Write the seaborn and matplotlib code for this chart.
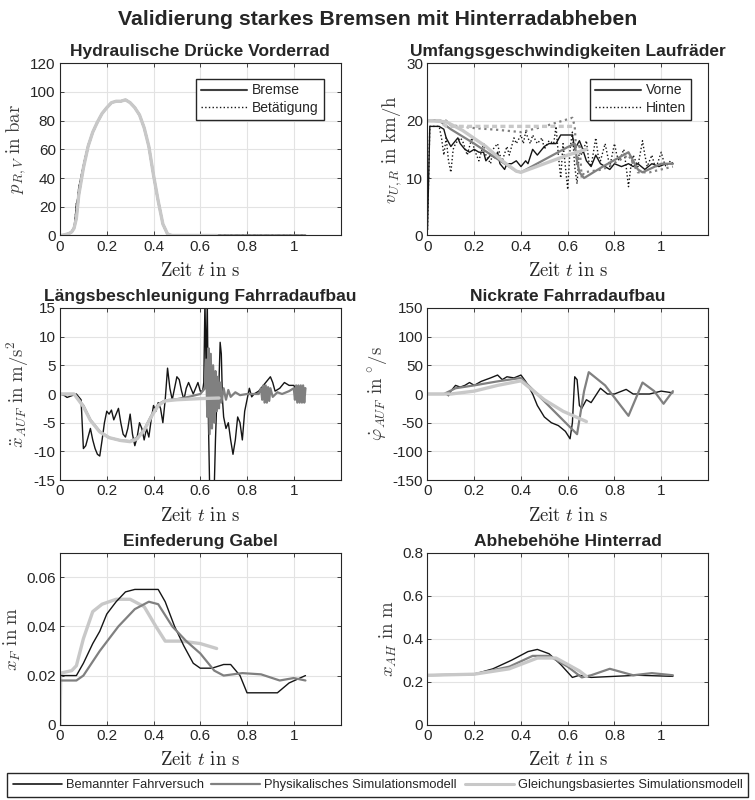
import numpy as np
import pandas as pd
import seaborn as sns
import matplotlib.pyplot as plt
from matplotlib.lines import Line2D

# Farben / Linien der drei Datenquellen
c_test = "#151515"    # Bemannter Fahrversuch
c_phys = "#808080"    # Physikalisches Simulationsmodell
c_gleich = "#c8c8c8"  # Gleichungsbasiertes Simulationsmodell

# ---- Hydraulische Drücke Vorderrad (t in s, p in bar)
p_test = [(0, 0), (0.02, 0.5), (0.04, 1.5), (0.05, 3), (0.06, 6), (0.065, 12), (0.07, 22), (0.075, 25),
          (0.08, 33), (0.10, 49), (0.12, 63), (0.14, 72), (0.16, 79), (0.18, 85), (0.20, 89), (0.22, 92.5),
          (0.24, 93.5), (0.26, 93.5), (0.28, 94.5), (0.30, 92.5), (0.32, 89), (0.34, 84), (0.36, 75),
          (0.38, 62), (0.40, 42), (0.42, 24), (0.44, 8), (0.46, 1), (0.48, 0), (0.6, 0), (0.8, 0), (1.05, 0)]
p_phys = [(0, 0), (0.02, 0.5), (0.04, 1.5), (0.05, 2.5), (0.06, 5), (0.07, 12), (0.08, 28), (0.10, 47),
          (0.12, 62), (0.14, 72), (0.16, 79), (0.18, 85), (0.20, 89), (0.22, 92.5), (0.24, 93.5), (0.26, 93.5),
          (0.28, 94.5), (0.30, 92.5), (0.32, 89), (0.34, 84), (0.36, 75), (0.38, 62), (0.40, 42), (0.42, 24),
          (0.44, 8), (0.46, 1), (0.48, 0), (0.6, 0), (0.8, 0), (1.05, 0)]
p_gleich = [(0, 0), (0.02, 0.5), (0.04, 1.5), (0.05, 2.5), (0.06, 5), (0.07, 12), (0.08, 28), (0.10, 47),
            (0.12, 62), (0.14, 72), (0.16, 79), (0.18, 85), (0.20, 89), (0.22, 92.5), (0.24, 93.5),
            (0.26, 93.5), (0.28, 94.5), (0.30, 92.5), (0.32, 89), (0.34, 84), (0.36, 75), (0.38, 62),
            (0.40, 42), (0.42, 24), (0.44, 8), (0.46, 1), (0.48, 0), (0.67, 0)]

# ---- Umfangsgeschwindigkeiten (km/h)
v_vorne_test = [(0, 1), (0.01, 19), (0.02, 19), (0.05, 19), (0.07, 18.5), (0.08, 17), (0.10, 15.5), (0.11, 16),
                (0.13, 17), (0.14, 16), (0.16, 15), (0.18, 14.5), (0.20, 15), (0.22, 14.5), (0.24, 14.5),
                (0.25, 13), (0.27, 14), (0.29, 13.5), (0.30, 14.5), (0.31, 12.5), (0.33, 11.5), (0.34, 12.5),
                (0.36, 12.5), (0.38, 13), (0.40, 12), (0.42, 13), (0.43, 12.5), (0.45, 15), (0.47, 14),
                (0.48, 14.5), (0.50, 15.5), (0.52, 16), (0.55, 16), (0.57, 17.5), (0.60, 17.5), (0.62, 17.5),
                (0.63, 15), (0.65, 16.5), (0.66, 15.5), (0.68, 13), (0.70, 12), (0.72, 14), (0.74, 12.5),
                (0.76, 12), (0.78, 11.5), (0.80, 12.5), (0.83, 12), (0.86, 12.5), (0.88, 12), (0.90, 12.5),
                (0.93, 11.5), (0.96, 12.5), (0.99, 12), (1.02, 12.5), (1.05, 12.5)]
v_hinten_test = [(0, 1), (0.01, 19), (0.05, 19), (0.06, 17), (0.07, 14), (0.08, 17), (0.09, 13), (0.10, 11),
                 (0.11, 15), (0.12, 16), (0.14, 17), (0.15, 16.5), (0.17, 14), (0.19, 17), (0.20, 15),
                 (0.22, 13), (0.24, 16), (0.25, 14), (0.27, 12.5), (0.28, 15), (0.30, 16), (0.31, 14),
                 (0.32, 13), (0.34, 15.5), (0.35, 14), (0.37, 17), (0.38, 16), (0.40, 17.5), (0.41, 16),
                 (0.42, 18), (0.44, 16), (0.45, 17.5), (0.47, 16), (0.49, 17), (0.50, 15), (0.52, 16.5),
                 (0.54, 16), (0.55, 19), (0.56, 14), (0.57, 10), (0.58, 16), (0.60, 8), (0.61, 15), (0.62, 18),
                 (0.63, 12), (0.64, 9), (0.65, 15), (0.66, 14), (0.68, 16.5), (0.69, 13), (0.70, 12),
                 (0.72, 17), (0.73, 14), (0.74, 13), (0.76, 16), (0.77, 14), (0.78, 12), (0.80, 16),
                 (0.81, 14), (0.82, 13), (0.84, 15), (0.85, 12), (0.86, 8.5), (0.87, 12), (0.88, 14),
                 (0.90, 12), (0.92, 16.5), (0.93, 14), (0.94, 12), (0.96, 14), (0.97, 12.5), (0.98, 12),
                 (1.0, 14.5), (1.01, 13), (1.02, 12), (1.04, 13), (1.05, 12.5)]
v_vorne_phys = [(0, 20), (0.05, 20), (0.1, 18.5), (0.2, 16), (0.3, 13.3), (0.38, 11.2), (0.4, 11), (0.5, 13.2),
                (0.6, 15.4), (0.63, 16), (0.64, 13), (0.65, 11), (0.67, 10), (0.75, 12), (0.86, 14.5),
                (0.9, 11.5), (0.92, 11), (1.0, 12.5), (1.05, 12.5)]
v_hinten_phys = [(0, 20), (0.08, 20), (0.1, 19.2), (0.2, 18.7), (0.3, 18.4), (0.4, 18), (0.5, 19), (0.62, 20.5),
                 (0.63, 19), (0.64, 12), (0.65, 16), (0.66, 10), (0.67, 11), (0.75, 11.5), (0.86, 14),
                 (0.9, 11), (0.95, 11), (1.05, 12)]
v_vorne_gleich = [(0, 20), (0.08, 19.8), (0.15, 18.3), (0.25, 15.5), (0.32, 13), (0.38, 11.2), (0.4, 11),
                  (0.5, 12.5), (0.6, 14), (0.68, 15)]
v_hinten_gleich = [(0, 20), (0.05, 20), (0.08, 19), (0.63, 19)]

# ---- Längsbeschleunigung (m/s^2)
a_test = [(0, 0), (0.02, -0.3), (0.03, -0.6), (0.05, -0.3), (0.07, 0), (0.09, -1), (0.10, -9.5), (0.11, -9),
          (0.12, -7.5), (0.13, -6), (0.14, -8), (0.15, -9.5), (0.16, -10.5), (0.17, -10.8), (0.18, -8),
          (0.19, -5), (0.20, -3), (0.21, -3.5), (0.22, -2.8), (0.23, -4.5), (0.24, -3.5), (0.25, -2.5),
          (0.26, -5), (0.27, -7), (0.28, -7.5), (0.29, -6), (0.30, -3.5), (0.31, -7), (0.32, -9),
          (0.33, -7.5), (0.34, -5), (0.35, -6), (0.36, -8), (0.37, -6), (0.38, -7.5), (0.39, -4.5),
          (0.40, -2), (0.41, -3), (0.42, -1.5), (0.43, -2.5), (0.44, -5), (0.45, -1), (0.46, 4.5),
          (0.47, 1), (0.48, -1), (0.49, 1), (0.50, 3), (0.51, 2.5), (0.52, 0.5), (0.53, -1), (0.54, 1),
          (0.55, 2), (0.56, 1), (0.57, 0), (0.58, 1), (0.59, 2), (0.60, 0.5), (0.61, 0.5), (0.615, 2),
          (0.62, 16), (0.625, 4), (0.63, 16), (0.635, -5), (0.64, -16), (0.66, -16), (0.665, -8),
          (0.67, -2), (0.68, 2), (0.685, 9), (0.69, 7), (0.695, -1), (0.70, -4), (0.71, -6), (0.72, -5),
          (0.73, -8), (0.74, -10.5), (0.75, -8), (0.76, -4), (0.77, -5), (0.78, -8), (0.79, -3),
          (0.80, -1), (0.81, 1), (0.82, -0.5), (0.83, 0), (0.85, 0.5), (0.87, 1.5), (0.89, 2.5),
          (0.90, 3), (0.91, 2), (0.92, 0.5), (0.94, 1), (0.96, 2), (0.98, 1.5), (1.0, 1.5), (1.02, 0),
          (1.03, 1), (1.05, 1)]
a_phys = [(0, 0), (0.06, 0), (0.1, -2), (0.13, -4.5), (0.17, -6.5), (0.21, -7.6), (0.26, -8.1), (0.3, -8.2),
          (0.33, -7.6), (0.36, -6.2), (0.39, -3.8), (0.42, -1.8), (0.45, -1.1), (0.5, -0.9), (0.55, -0.5),
          (0.6, 0), (0.62, 1), (0.625, 6), (0.63, -4), (0.635, 8), (0.64, -7), (0.645, 7), (0.65, -6),
          (0.655, 5), (0.66, -5), (0.665, 4), (0.67, -3), (0.675, 3), (0.68, -2.5), (0.685, 2),
          (0.69, -1.5), (0.70, 1), (0.71, -1), (0.72, 0.7), (0.73, -0.5), (0.75, 0.3), (0.77, -0.2),
          (0.80, 0), (0.85, 0), (0.86, 1), (0.865, -1), (0.87, 1.5), (0.875, -1.5), (0.88, 1.5),
          (0.885, -1.5), (0.89, 1.2), (0.895, -1.2), (0.9, 1), (0.91, -0.5), (0.93, 0.3), (0.95, 0),
          (0.98, 0.5), (1.0, 1), (1.005, -1), (1.01, 1.5), (1.015, -1.5), (1.02, 1.5), (1.025, -1.5),
          (1.03, 1.5), (1.035, -1.5), (1.04, 1.5), (1.045, -1.5), (1.05, 1)]
a_gleich = [(0, 0), (0.06, 0), (0.1, -2.2), (0.13, -4.6), (0.17, -6.6), (0.21, -7.6), (0.26, -8.1), (0.3, -8.3),
            (0.33, -7.8), (0.36, -6.3), (0.39, -4), (0.42, -2), (0.45, -1.2), (0.5, -1), (0.6, -0.8),
            (0.68, -0.7)]

# ---- Nickrate (°/s)
w_test = [(0, 0), (0.08, 0), (0.09, -3), (0.10, 5), (0.12, 15), (0.14, 12), (0.16, 15), (0.18, 20), (0.20, 15),
          (0.23, 22), (0.25, 25), (0.27, 28), (0.30, 33), (0.32, 25), (0.34, 30), (0.37, 28), (0.40, 33),
          (0.42, 22), (0.45, 0), (0.47, -20), (0.50, -40), (0.53, -50), (0.56, -55), (0.59, -65),
          (0.61, -78), (0.62, -50), (0.63, 30), (0.64, 25), (0.65, -20), (0.66, -25), (0.68, -10),
          (0.70, -15), (0.74, 10), (0.77, 0), (0.80, 0), (0.85, 8), (0.88, 0), (0.90, 0), (0.95, 0),
          (1.0, 5), (1.05, 2)]
w_phys = [(0, 0), (0.07, 0), (0.12, 10), (0.2, 15), (0.3, 22), (0.4, 28), (0.64, -70), (0.67, 5), (0.69, 38),
          (0.76, 15), (0.86, -38), (0.92, 20), (0.97, 5), (1.01, -17), (1.05, 5)]
w_gleich = [(0, 0), (0.1, 0), (0.2, 5), (0.3, 15), (0.4, 23), (0.5, -10), (0.58, -30), (0.68, -48)]

# ---- Einfederung Gabel (m)
f_test = [(0, 0.02), (0.07, 0.02), (0.1, 0.025), (0.14, 0.033), (0.17, 0.038), (0.2, 0.045), (0.24, 0.05),
          (0.28, 0.054), (0.32, 0.055), (0.42, 0.055), (0.45, 0.05), (0.49, 0.04), (0.53, 0.032),
          (0.57, 0.025), (0.6, 0.023), (0.65, 0.023), (0.7, 0.0245), (0.73, 0.0245), (0.77, 0.02),
          (0.8, 0.013), (0.93, 0.013), (0.98, 0.017), (1.05, 0.02)]
f_phys = [(0, 0.018), (0.07, 0.018), (0.1, 0.02), (0.17, 0.03), (0.25, 0.04), (0.32, 0.047), (0.38, 0.05),
          (0.42, 0.049), (0.48, 0.04), (0.54, 0.034), (0.6, 0.029), (0.66, 0.022), (0.7, 0.02),
          (0.78, 0.021), (0.86, 0.0205), (0.94, 0.018), (1.0, 0.019), (1.05, 0.018)]
f_gleich = [(0, 0.0), (0.003, 0.021), (0.05, 0.022), (0.07, 0.024), (0.1, 0.035), (0.14, 0.046),
            (0.18, 0.049), (0.24, 0.051), (0.3, 0.051), (0.36, 0.048), (0.41, 0.04), (0.45, 0.034),
            (0.52, 0.034), (0.6, 0.033), (0.67, 0.031)]

# ---- Abhebehöhe Hinterrad (m)
h_test = [(0, 0.23), (0.2, 0.235), (0.28, 0.26), (0.36, 0.3), (0.43, 0.34), (0.47, 0.35), (0.52, 0.33),
          (0.57, 0.28), (0.62, 0.22), (0.65, 0.23), (0.7, 0.22), (0.8, 0.225), (0.9, 0.23), (1.05, 0.225)]
h_phys = [(0, 0.23), (0.2, 0.235), (0.35, 0.27), (0.45, 0.32), (0.52, 0.32), (0.6, 0.27), (0.66, 0.22),
          (0.7, 0.23), (0.78, 0.26), (0.88, 0.23), (0.96, 0.24), (1.05, 0.23)]
h_gleich = [(0, 0.23), (0.2, 0.235), (0.35, 0.26), (0.47, 0.31), (0.55, 0.31), (0.65, 0.25), (0.68, 0.225)]

titles = ["Hydraulische Drücke Vorderrad", "Umfangsgeschwindigkeiten Laufräder",
          "Längsbeschleunigung Fahrradaufbau", "Nickrate Fahrradaufbau",
          "Einfederung Gabel", "Abhebehöhe Hinterrad"]
ylabels = [r"$p_{R,V}\ \mathrm{in\ bar}$", r"$v_{U,R}\ \mathrm{in\ km/h}$",
           r"$\ddot{x}_{AUF}\ \mathrm{in\ m/s^2}$", r"$\dot{\varphi}_{AUF}\ \mathrm{in\ ^{\circ}/s}$",
           r"$x_F\ \mathrm{in\ m}$", r"$x_{AH}\ \mathrm{in\ m}$"]
yticks = [[0, 20, 40, 60, 80, 100, 120], [0, 10, 20, 30], [-15, -10, -5, 0, 5, 10, 15],
          [-150, -100, -50, 0, 50, 100, 150], [0, 0.02, 0.04, 0.06], [0, 0.2, 0.4, 0.6, 0.8]]
yticklabels = [["0", "20", "40", "60", "80", "100", "120"], ["0", "10", "20", "30"],
               ["-15", "-10", "-5", "0", "5", "10", "15"], ["-150", "-100", "-50", "0", "50", "100", "150"],
               ["0", "0.02", "0.04", "0.06"], ["0", "0.2", "0.4", "0.6", "0.8"]]
ylims = [(0, 120), (0, 30), (-15, 15), (-150, 150), (0, 0.07), (0, 0.8)]
xticks = [0, 0.2, 0.4, 0.6, 0.8, 1.0]
xticklabels = ["0", "0.2", "0.4", "0.6", "0.8", "1"]

sns.set_theme(style="white")
plt.rcParams['font.family'] = ['Liberation Sans', 'DejaVu Sans']
plt.rcParams['mathtext.fontset'] = 'cm'
plt.rcParams['axes.unicode_minus'] = False


def draw(ax, pts, color, lw, ls='-'):
    df = pd.DataFrame(pts, columns=['t', 'y'])
    sns.lineplot(data=df, x='t', y='y', ax=ax, color=color, lw=lw, linestyle=ls,
                 estimator=None, sort=False)


fig, axes = plt.subplots(3, 2, figsize=(7.55, 8), dpi=100)
fig.subplots_adjust(left=0.0795, right=0.9377, bottom=0.094, top=0.921, wspace=0.31, hspace=0.42)
axes = axes.flatten()

# Drücke
draw(axes[0], p_test, c_test, 1.0, ':')
draw(axes[0], p_test, c_test, 1.0)
draw(axes[0], p_phys, c_phys, 1.6, ':')
draw(axes[0], p_phys, c_phys, 1.6)
draw(axes[0], p_gleich, c_gleich, 2.4)

# Geschwindigkeiten
draw(axes[1], v_hinten_test, c_test, 1.0, ':')
draw(axes[1], v_vorne_test, c_test, 1.0)
draw(axes[1], v_hinten_phys, c_phys, 1.6, ':')
draw(axes[1], v_vorne_phys, c_phys, 1.6)
draw(axes[1], v_hinten_gleich, c_gleich, 2.4, (0, (1.5, 1)))
draw(axes[1], v_vorne_gleich, c_gleich, 2.4)

# Beschleunigung
draw(axes[2], a_test, c_test, 1.0)
draw(axes[2], a_phys, c_phys, 1.6)
draw(axes[2], a_gleich, c_gleich, 2.4)

# Nickrate
draw(axes[3], w_test, c_test, 1.0)
draw(axes[3], w_phys, c_phys, 1.6)
draw(axes[3], w_gleich, c_gleich, 2.4)

# Einfederung
draw(axes[4], f_gleich, c_gleich, 2.4)
draw(axes[4], f_test, c_test, 1.0)
draw(axes[4], f_phys, c_phys, 1.6)

# Abhebehöhe
draw(axes[5], h_test, c_test, 1.0)
draw(axes[5], h_phys, c_phys, 1.6)
draw(axes[5], h_gleich, c_gleich, 2.4)

for i, ax in enumerate(axes):
    ax.set_xlim(0, 1.2)
    ax.set_ylim(*ylims[i])
    ax.set_xticks(xticks)
    ax.set_xticklabels(xticklabels)
    ax.set_yticks(yticks[i])
    ax.set_yticklabels(yticklabels[i])
    ax.grid(True, color='#e3e3e3', lw=0.8)
    ax.set_axisbelow(True)
    for sp in ax.spines.values():
        sp.set_color('#262626')
        sp.set_linewidth(0.8)
    ax.tick_params(direction='in', top=True, right=True, length=3, width=0.6, color='#262626',
                   labelsize=11, labelcolor='#262626', pad=3, bottom=True, left=True)
    ax.set_title(titles[i], fontsize=12.5, fontweight='bold', pad=5)
    ax.set_xlabel(r"$\mathrm{Zeit}\ t\ \mathrm{in\ s}$", fontsize=13.5, color='#262626', labelpad=6)
    ax.set_ylabel(ylabels[i], fontsize=13.5, color='#404040', labelpad=2)

# Legenden in den oberen Diagrammen
h_p = [Line2D([], [], color='#404040', lw=1.5), Line2D([], [], color=c_test, lw=1.0, ls=':')]
axes[0].legend(h_p, ["Bremse", "Betätigung"], loc='upper right', bbox_to_anchor=(0.955, 0.935),
               fontsize=10, fancybox=False, edgecolor='#262626', framealpha=1, handlelength=3.3,
               borderaxespad=0.3, labelspacing=0.25, handletextpad=0.4, borderpad=0.35)
axes[1].legend(h_p, ["Vorne", "Hinten"], loc='upper right', bbox_to_anchor=(0.955, 0.935),
               fontsize=10, fancybox=False, edgecolor='#262626', framealpha=1, handlelength=3.3,
               borderaxespad=0.3, labelspacing=0.25, handletextpad=0.4, borderpad=0.35)

# Gemeinsame Legende unten
h_all = [Line2D([], [], color=c_test, lw=1.2), Line2D([], [], color=c_phys, lw=1.6),
         Line2D([], [], color=c_gleich, lw=2.2)]
fig.legend(h_all, ["Bemannter Fahrversuch", "Physikalisches Simulationsmodell",
                   "Gleichungsbasiertes Simulationsmodell"],
           loc='center', bbox_to_anchor=(0.5, 0.0185), ncol=3, fontsize=9.3, fancybox=False,
           edgecolor='#262626', framealpha=1, handlelength=3.8, columnspacing=0.6, handletextpad=0.3,
           borderpad=0.45)

fig.suptitle("Validierung starkes Bremsen mit Hinterradabheben", fontsize=15.3, fontweight='bold', y=0.988)

plt.savefig("out.png", dpi=100)
